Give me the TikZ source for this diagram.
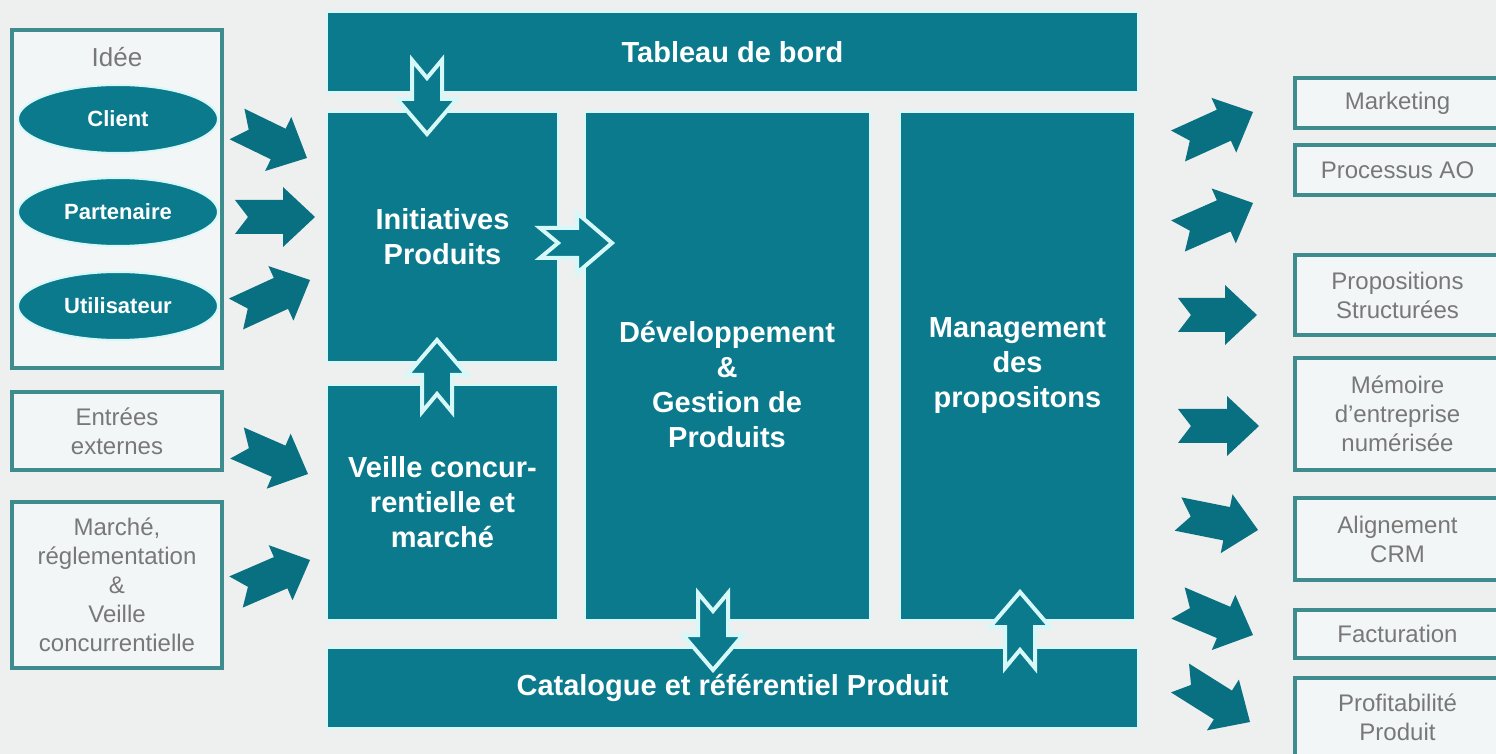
\documentclass[tikz,border=0pt]{standalone}
\usepackage{fontspec}
\setmainfont{Liberation Sans}
\usepackage{tikz}
\usetikzlibrary{shapes.geometric}
\usetikzlibrary{calc}

\definecolor{petrol}{RGB}{10,122,140}
\definecolor{petroldark}{RGB}{8,112,128}
\definecolor{glow}{RGB}{215,248,248}
\definecolor{frame}{RGB}{62,140,142}
\definecolor{paper}{RGB}{238,240,239}
\definecolor{boxfill}{RGB}{243,246,246}
\definecolor{txtgray}{RGB}{120,120,120}

\tikzstyle{sketch}=[x=0.5pt, y=-0.5pt]
\tikzstyle{block}=[rectangle, fill=petrol, draw=glow, line width=1pt, text=white, font=\fontsize{14.5}{17.5}\selectfont\bfseries, align=center, inner sep=0pt]
\tikzstyle{lbl}=[text=white, font=\fontsize{14.5}{17.5}\selectfont\bfseries, align=center, inner sep=0pt]
\tikzstyle{src}=[ellipse, fill=petrol, draw=glow, line width=1pt, text=white, font=\fontsize{11}{13}\selectfont\bfseries, minimum width=100pt, minimum height=34pt, inner sep=0pt]
\tikzstyle{frm}=[rectangle, fill=boxfill, draw=frame, line width=2pt, text=txtgray, font=\fontsize{12}{14.5}\selectfont, align=center, inner sep=0pt]
\tikzstyle{ttl}=[text=txtgray, font=\fontsize{13}{15}\selectfont, inner sep=0pt]
\tikzstyle{chev}=[fill=petroldark, draw=none]
\tikzstyle{hollow}=[fill=petrol, draw=glow, line width=2pt, line join=miter]

% notched block arrow: style, tail, tip
\def\arrsw{8.5pt}\def\arrhw{15pt}\def\arrhl{16pt}\def\arrnd{6.5pt}
\newcommand{\blockarrow}[3]{%
  \coordinate (ba-h) at ($(#3)!\arrhl!(#2)$);
  \path[#1] ($(#2)!\arrsw!90:(#3)$) -- ($(ba-h)!\arrsw!-90:(#2)$) -- ($(ba-h)!\arrhw!-90:(#2)$) -- (#3)
    -- ($(ba-h)!\arrhw!90:(#2)$) -- ($(ba-h)!\arrsw!90:(#2)$) -- ($(#2)!\arrsw!-90:(#3)$) -- ($(#2)!\arrnd!(#3)$) -- cycle;
}

\begin{document}
\begin{tikzpicture}[sketch]
	\clip (0,0) rectangle (1496,754);
	\fill[paper] (0,0) rectangle (1496,754);

	%The inputs
	\draw (117,199) node[frm, minimum width=105pt, minimum height=169pt] (idee) {};
	\draw (117,57) node[ttl] (ideettl) {Idée};
	\draw (118,119) node[src] (client) {Client};
	\draw (118,212) node[src] (part) {Partenaire};
	\draw (118,306) node[src] (user) {Utilisateur};
	\draw (117,431) node[frm, minimum width=105pt, minimum height=39pt] (ext) {Entrées\\externes};
	\draw (117,585) node[frm, minimum width=105pt, minimum height=83pt] (mkt) {Marché,\\réglementation\\\&\\Veille\\concurrentielle};

	%The core blocks
	\draw (732.5,52) node[block, minimum width=405.5pt, minimum height=40pt] (tab) {Tableau de bord};
	\draw (442.5,237) node[block, minimum width=115.5pt, minimum height=125pt] (ini) {Initiatives\\Produits};
	\draw (442.5,502.5) node[block, minimum width=115.5pt, minimum height=117.5pt] (vei) {Veille concur-\\rentielle et\\marché};
	\draw (727.5,366) node[block, minimum width=142.5pt, minimum height=254pt] (dev) {};
	\draw (727,385) node[lbl] (devtxt) {Développement\\\&\\Gestion de\\Produits};
	\draw (1017.5,366) node[block, minimum width=117.5pt, minimum height=254pt] (mgt) {Management\\des\\propositons};
	\draw (732.5,688) node[block, minimum width=405.5pt, minimum height=40pt] (cat) {Catalogue et référentiel Produit};

	%The outputs
	\draw (1397.5,103) node[frm, minimum width=102.5pt, minimum height=25pt] (o1) {Marketing};
	\draw (1397.5,170) node[frm, minimum width=102.5pt, minimum height=25pt] (o2) {Processus AO};
	\draw (1397.5,295) node[frm, minimum width=102.5pt, minimum height=40pt] (o3) {Propositions\\Structurées};
	\draw (1397.5,414) node[frm, minimum width=102.5pt, minimum height=56pt] (o4) {Mémoire\\d'entreprise\\numérisée};
	\draw (1397.5,539) node[frm, minimum width=102.5pt, minimum height=41pt] (o5) {Alignement\\CRM};
	\draw (1397.5,634) node[frm, minimum width=102.5pt, minimum height=24pt] (o6) {Facturation};
	\draw (1397.5,717) node[frm, minimum width=102.5pt, minimum height=39pt] (o7) {Profitabilité\\Produit};

	%The input arrows
	\coordinate (i1a) at (237,124); \coordinate (i1b) at (307,158);
	\coordinate (i2a) at (235,217); \coordinate (i2b) at (315,217);
	\coordinate (i3a) at (236,314); \coordinate (i3b) at (310,280);
	\coordinate (i4a) at (237,443); \coordinate (i4b) at (308,474);
	\coordinate (i5a) at (236,592); \coordinate (i5b) at (310,560);
	\foreach \n in {1,...,5}
		\blockarrow{chev}{i\n a}{i\n b};

	%The output arrows
	\coordinate (q1a) at (1178,146); \coordinate (q1b) at (1253,112);
	\coordinate (q2a) at (1178,236); \coordinate (q2b) at (1253,203);
	\coordinate (q3a) at (1178,315); \coordinate (q3b) at (1257,315);
	\coordinate (q4a) at (1178,426); \coordinate (q4b) at (1259,426);
	\coordinate (q5a) at (1178,514); \coordinate (q5b) at (1258,530);
	\coordinate (q6a) at (1178,603); \coordinate (q6b) at (1253,635);
	\coordinate (q7a) at (1180,678); \coordinate (q7b) at (1250,722);
	\foreach \n in {1,...,7}
		\blockarrow{chev}{q\n a}{q\n b};

	%The inner arrows
	\begin{scope}
	\def\arrsw{7.5pt}\def\arrhw{15pt}\def\arrhl{17.5pt}\def\arrnd{9pt}
	\coordinate (h1a) at (427,60); \coordinate (h1b) at (427,134);
	\coordinate (h2a) at (437,412); \coordinate (h2b) at (437,340);
	\coordinate (h3a) at (540,243); \coordinate (h3b) at (612,243);
	\coordinate (h4a) at (713,593); \coordinate (h4b) at (713,670);
	\coordinate (h5a) at (1020,668); \coordinate (h5b) at (1020,592);
	\foreach \n in {1,...,5}
		\blockarrow{hollow}{h\n a}{h\n b};
	\end{scope}
\end{tikzpicture}
\end{document}
